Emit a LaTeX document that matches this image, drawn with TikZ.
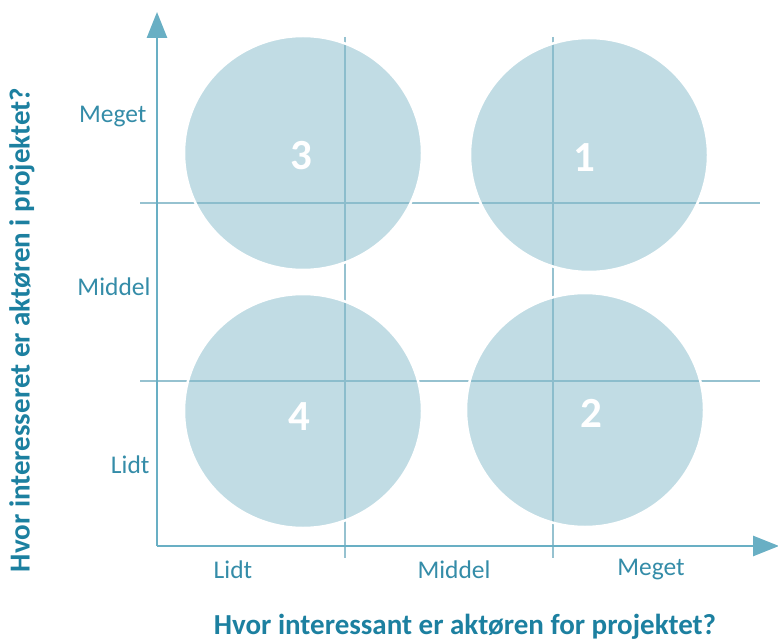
\documentclass[tikz,border=0pt]{standalone}
\usepackage{fontspec}
\setmainfont{Carlito}
\usepackage{tikz}
\usetikzlibrary{positioning,calc,arrows.meta,shapes.geometric}
\definecolor{axisblue}{RGB}{105,175,196}
\definecolor{gridblue}{RGB}{150,194,208}
\definecolor{blobblue}{RGB}{131,185,201}
\definecolor{labelteal}{RGB}{52,140,168}
\definecolor{titleteal}{RGB}{28,128,160}

\begin{document}
\begin{tikzpicture}[x=1pt,y=-1pt,
					axis/.style={draw=axisblue, line width=2.6pt,
						-{Triangle[width=20pt,length=26pt]}},
					gridline/.style={draw=gridblue, line width=1.8pt},
					blob/.style={
						ellipse, fill=blobblue, fill opacity=0.5,
						draw=white, line width=2.5pt,
						minimum width=238pt, minimum height=234pt
					},
					num/.style={text=white, font=\bfseries\fontsize{43}{46}\selectfont},
					lvl/.style={text=labelteal, font=\fontsize{25.5}{28}\selectfont},
					question/.style={text=titleteal, font=\bfseries\fontsize{29}{32}\selectfont}
					]
					\useasboundingbox (0,0) rectangle (778,644);
					% akser og hjaelpelinjer
					\coordinate (origo) at (157,546);
					\coordinate (ytop)  at (157,12);
					\coordinate (xend)  at (779,546);
					\coordinate (v1top) at (345,37);
					\coordinate (v1bot) at (345,558);
					\coordinate (v2top) at (553,37);
					\coordinate (v2bot) at (553,558);
					\coordinate (h1l)   at (140,203);
					\coordinate (h1r)   at (760,203);
					\coordinate (h2l)   at (140,381);
					\coordinate (h2r)   at (760,381);
					\draw[gridline] (v1top) -- (v1bot);
					\draw[gridline] (v2top) -- (v2bot);
					\draw[gridline] (h1l) -- (h1r);
					\draw[gridline] (h2l) -- (h2r);
					% de fire cirkler
					\node[blob] (c3) at (303,153) {};
					\node[blob] (c1) at (589,155) {};
					\node[blob] (c4) at (303,411) {};
					\node[blob] (c2) at (585,410) {};
					\node[num] (n3) at (301,156) {3};
					\node[num] (n1) at (584,158) {1};
					\node[num] (n4) at (299,417) {4};
					\node[num] (n2) at (591,413) {2};
					\draw[axis] (origo) -- (ytop);
					\draw[axis] (origo) -- (xend);
					% niveauer
					\node[lvl, anchor=east] (ymeget)  at (150,117) {Meget};
					\node[lvl, anchor=east] (ymiddel) at (154,287) {Middel};
					\node[lvl, anchor=east] (ylidt)   at (153,465) {Lidt};
					\node[lvl] (xlidt)   at (233,570) {Lidt};
					\node[lvl] (xmiddel) at (454,570) {Middel};
					\node[lvl] (xmeget)  at (651,570) {Meget};
					\node[question] (xq) at (465,627) {Hvor interessant er aktøren for projektet?};
					\node[question, rotate=90] (yq) at (22,330) {Hvor interesseret er aktøren i projektet?};
				\end{tikzpicture}
\end{document}
